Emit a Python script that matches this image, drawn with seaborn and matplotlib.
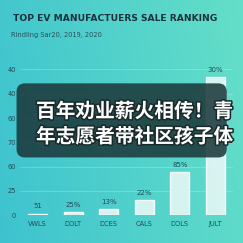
import numpy as np
import pandas as pd
import matplotlib
matplotlib.use("Agg")
import matplotlib.pyplot as plt
import matplotlib.patheffects as pe
from matplotlib.patches import FancyBboxPatch
from matplotlib.colors import LinearSegmentedColormap
import seaborn as sns

categories = ["VWLS", "DOLT", "DCES", "CALS", "DOLS", "JULT"]
values = [0.6, 1.3, 2.6, 6.2, 17.7, 56.8]
bar_labels = ["51", "25%", "13%", "22%", "85%", "30%"]
ytick_pos = [0, 10, 20, 30, 40, 50, 60]
ytick_labels = ["0", "25", "60", "70", "60", "40", "40"]
title = "TOP EV MANUFACTUERS SALE RANKING"
subtitle = "Rindling Sar20, 2019, 2020"
overlay_lines = ["百年劝业薪火相传！青", "年志愿者带社区孩子体"]

sns.set_theme(style="white")
plt.rcParams["font.family"] = ["DejaVu Sans"]

fig = plt.figure(figsize=(2.43, 2.43), dpi=100)

# gradient background
bg = fig.add_axes([0, 0, 1, 1], zorder=0)
cmap = LinearSegmentedColormap.from_list("bg", ["#3ec3cf", "#64dfc8"])
xx, yy = np.meshgrid(np.linspace(0, 1, 256), np.linspace(0, 1, 256))
grad = 0.85 * xx + 0.15 * (1 - yy)
bg.imshow(grad, cmap=cmap, aspect="auto", extent=[0, 1, 0, 1], origin="upper")
bg.set_axis_off()

ax = fig.add_axes([0.082, 0.115, 0.877, 0.639], zorder=1)
ax.patch.set_alpha(0)
df = pd.DataFrame({"cat": categories, "val": values})
sns.barplot(data=df, x="cat", y="val", ax=ax, color="#e6f7f5", width=0.53,
            saturation=1, alpha=0.9, zorder=3)
ax.set_xlim(-0.5, 5.5)
ax.set_ylim(0, 64)
ax.set_yticks(ytick_pos)
ax.set_yticklabels(ytick_labels)
ax.set_xlabel("")
ax.set_ylabel("")
ax.tick_params(axis="both", length=0, labelsize=4.8, colors="#244a55", pad=4)
ax.tick_params(axis="y", pad=3)
for y in ytick_pos:
    ax.axhline(y, color="#ffffff", alpha=0.25, lw=0.6, zorder=1)
for s in ax.spines.values():
    s.set_visible(False)

for i, (v, lab) in enumerate(zip(values, bar_labels)):
    ax.annotate(lab, (i, v), xytext=(0, 3), textcoords="offset points",
                ha="center", va="bottom", fontsize=5, color="#244a55")

fig.text(0.053, 0.922, title, fontsize=6.6, fontweight="bold", color="#1e2f3d",
         ha="left", va="center")
fig.text(0.045, 0.857, subtitle, fontsize=4.8, color="#2a4f5a", ha="left", va="center")

# overlay box
box = FancyBboxPatch((0.068, 0.352), 0.865, 0.305, boxstyle="round,pad=0,rounding_size=0.035",
                     transform=fig.transFigure, facecolor="#1c3a3c", alpha=0.88,
                     edgecolor="none", zorder=5)
fig.patches.append(box)
for k, line in enumerate(overlay_lines):
    fig.text(0.148, 0.540 - k * 0.103, line, fontsize=14.2, fontweight="bold",
             color="white", ha="left", va="center", family=["Noto Sans CJK SC", "DejaVu Sans"],
             zorder=6, path_effects=[pe.withStroke(linewidth=2.2, foreground="#1a2a2a")])

fig.savefig("out.png", dpi=100)
